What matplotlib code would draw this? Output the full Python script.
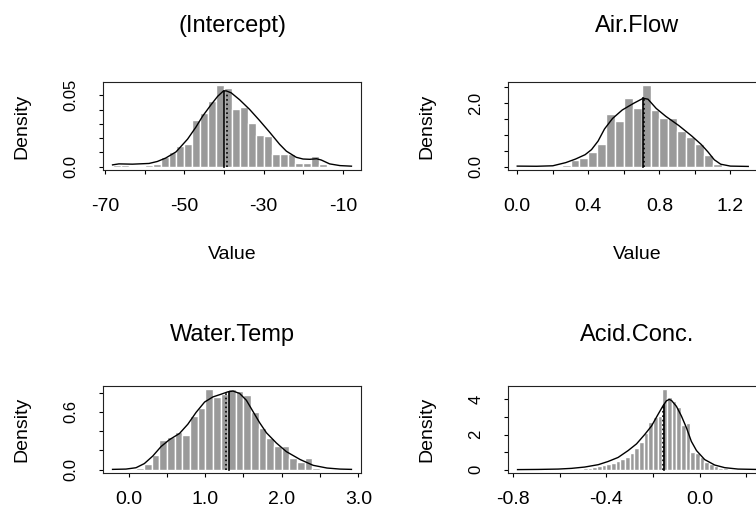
import numpy as np
import matplotlib.pyplot as plt

plt.rcParams['font.family'] = ['Liberation Sans', 'DejaVu Sans']
plt.rcParams['axes.unicode_minus'] = False

##### DATA #####
titles = ['(Intercept)', 'Air.Flow', 'Water.Temp', 'Acid.Conc.']

# (Intercept): histogram bins start at -68, width 2
int_start, int_width = -68.0, 2.0
int_heights = [0.001, 0.001, 0.0005, 0.0005, 0.001, 0.0022, 0.0071, 0.0104,
               0.0147, 0.0162, 0.0325, 0.0373, 0.0457, 0.057, 0.0554, 0.0406,
               0.0418, 0.0306, 0.0222, 0.0215, 0.009, 0.009, 0.009, 0.0023,
               0.0026, 0.0074, 0.0017, 0.0, 0.0, 0.0]
int_dens_x = [-68.1, -66.5, -63.1, -58.9, -56.8, -54.7, -52.1, -49.2, -47.1,
              -45.4, -43.3, -41.6, -40.2, -39.5, -38.2, -36.1, -33.6, -31.1,
              -28.5, -26.0, -24.3, -21.8, -20.1, -18.4, -16.7, -15.5, -13.4,
              -10.8, -7.9]
int_dens_y = [0.0013, 0.002, 0.0018, 0.0023, 0.0037, 0.0061, 0.0104, 0.0193,
              0.0277, 0.0354, 0.0433, 0.0493, 0.0529, 0.0531, 0.0517, 0.0469,
              0.0402, 0.0325, 0.0241, 0.0157, 0.0109, 0.0066, 0.0054, 0.0052,
              0.0056, 0.0047, 0.002, 0.0008, 0.0004]
int_mean, int_median = -40.0, -39.3
int_mean_top, int_median_top = 0.053, 0.052

# Air.Flow: bins start at 0, width 0.05
air_start, air_width = 0.0, 0.05
air_heights = [0.03, 0.0, 0.0, 0.0, 0.0, 0.07, 0.22, 0.28, 0.46, 0.72, 1.66,
               1.45, 2.18, 1.86, 2.57, 1.80, 1.53, 1.54, 1.13, 0.94, 0.72,
               0.36, 0.08, 0.0, 0.0, 0.01]
air_dens_x = [0.0, 0.109, 0.2, 0.273, 0.327, 0.382, 0.418, 0.455, 0.491, 0.536,
              0.591, 0.655, 0.709, 0.736, 0.782, 0.836, 0.909, 0.982, 1.036,
              1.073, 1.109, 1.145, 1.2, 1.3]
air_dens_y = [0.02, 0.015, 0.03, 0.13, 0.24, 0.38, 0.54, 0.81, 1.19, 1.52,
              1.79, 2.0, 2.16, 2.13, 1.84, 1.59, 1.3, 0.97, 0.70, 0.47, 0.22,
              0.08, 0.02, 0.01]
air_mean, air_median = 0.709, 0.716
air_mean_top, air_median_top = 2.16, 2.15

# Water.Temp: bins start at 0, width 0.1
wat_start, wat_width = 0.0, 0.1
wat_heights = [0.0, 0.015, 0.06, 0.15, 0.31, 0.34, 0.39, 0.36, 0.56, 0.64,
               0.84, 0.755, 0.79, 0.835, 0.82, 0.78, 0.60, 0.43, 0.33, 0.25,
               0.25, 0.124, 0.08, 0.124, 0.015, 0.005, 0.0, 0.005]
wat_dens_x = [-0.21, -0.035, 0.096, 0.205, 0.315, 0.424, 0.533, 0.664, 0.773,
              0.882, 0.992, 1.1, 1.21, 1.3, 1.363, 1.45, 1.538, 1.625, 1.71,
              1.8, 1.93, 2.06, 2.24, 2.41, 2.59, 2.76, 2.91]
wat_dens_y = [0.004, 0.007, 0.021, 0.064, 0.142, 0.241, 0.312, 0.376, 0.472,
              0.596, 0.702, 0.755, 0.784, 0.809, 0.816, 0.791, 0.72, 0.603,
              0.489, 0.383, 0.277, 0.188, 0.106, 0.046, 0.018, 0.007, 0.004]
wat_mean, wat_median = 1.31, 1.27
wat_mean_top, wat_median_top = 0.81, 0.80

# Acid.Conc.: bins start at -0.78, width 0.02
acid_start, acid_width = -0.78, 0.02
acid_heights = [0.01, 0.01, 0.01, 0.01, 0.01, 0.02, 0.02, 0.02, 0.03, 0.03,
                0.04, 0.04, 0.05,
                0.06, 0.08, 0.12, 0.155, 0.21, 0.27, 0.31, 0.39, 0.50, 0.62,
                0.74, 0.97, 1.22, 1.59, 2.09, 2.71, 3.02, 3.06, 4.57, 4.13,
                3.93, 3.55, 2.52, 2.64, 1.03, 0.93, 0.70, 0.45, 0.35, 0.19,
                0.12, 0.08, 0.05, 0.03, 0.02, 0.01, 0.01, 0.005]
acid_dens_x = [-0.781, -0.692, -0.607, -0.55, -0.493, -0.435, -0.393, -0.35,
               -0.307, -0.271, -0.236, -0.207, -0.178, -0.157, -0.143, -0.131,
               -0.121, -0.1, -0.079, -0.057, -0.036, -0.014, 0.021, 0.064,
               0.107, 0.164, 0.243]
acid_dens_y = [0.01, 0.02, 0.04, 0.08, 0.155, 0.29, 0.47, 0.70, 1.09, 1.47,
               2.0, 2.48, 3.16, 3.64, 3.91, 3.99, 3.93, 3.6, 3.06, 2.38, 1.61,
               1.09, 0.58, 0.27, 0.12, 0.04, 0.02]
acid_mean, acid_median = -0.153, -0.158
acid_mean_top, acid_median_top = 3.68, 3.6

# axis ticks and labels
int_xticks = [-70, -60, -50, -40, -30, -20, -10]
int_xlabels = ['-70', '', '-50', '', '-30', '', '-10']
int_yticks = [0, 0.01, 0.02, 0.03, 0.04, 0.05]
int_ylabels = ['0.0', '', '', '', '', '0.05']

air_xticks = [0.0, 0.2, 0.4, 0.6, 0.8, 1.0, 1.2, 1.4]
air_xlabels = ['0.0', '', '0.4', '', '0.8', '', '1.2', '']
air_yticks = [0, 0.5, 1.0, 1.5, 2.0, 2.5]
air_ylabels = ['0.0', '', '', '', '2.0', '']

wat_xticks = [0.0, 0.5, 1.0, 1.5, 2.0, 2.5, 3.0]
wat_xlabels = ['0.0', '', '1.0', '', '2.0', '', '3.0']
wat_yticks = [0, 0.2, 0.4, 0.6, 0.8]
wat_ylabels = ['0.0', '', '', '0.6', '']

acid_xticks = [-0.8, -0.6, -0.4, -0.2, 0.0, 0.2]
acid_xlabels = ['-0.8', '', '-0.4', '', '0.0', '']
acid_yticks = [0, 1, 2, 3, 4]
acid_ylabels = ['0', '', '2', '', '4']

##### LAYOUT (pixels) #####
W, H = 756, 520
BAR_COL = '#9a9a9a'
PX = 72.0 / 100  # points per pixel at dpi 100


def draw_panel(fig, left, top, width, height, start, binw, heights,
               dx, dy, mean, mean_top, med, med_top,
               xticks, xlabels, yticks, ylabels, xpad):
    ax = fig.add_axes([left / W, 1 - (top + height) / H, width / W, height / H])
    edges = start + binw * np.arange(len(heights))
    ax.bar(edges, heights, width=binw, align='edge', color=BAR_COL,
           edgecolor='white', linewidth=1.0)
    ax.plot(dx, dy, color='black', lw=1.0)
    ax.plot([mean, mean], [0, mean_top], color='black', lw=1.2)
    ax.plot([med, med], [0, med_top], color='black', lw=1.2, ls=':')
    lo, hi = dx[0], dx[-1]
    ax.set_xlim(lo - 0.04 * (hi - lo), hi + 0.04 * (hi - lo))
    ymax = max(heights)
    ax.set_ylim(-0.04 * ymax, 1.04 * ymax)
    ax.set_xticks(xticks)
    ax.set_xticklabels(xlabels, fontsize=14)
    ax.set_yticks(yticks)
    ax.set_yticklabels(ylabels, rotation=90, va='center', fontsize=12)
    ax.tick_params(direction='out', length=4 * PX, width=0.8, color='black')
    ax.tick_params(axis='x', pad=xpad * PX)
    ax.tick_params(axis='y', pad=20.5 * PX)
    for s in ax.spines.values():
        s.set_linewidth(0.8)
        s.set_color('#222222')
    return ax


fig = plt.figure(figsize=(W / 100, H / 100), dpi=100)

panels = [
    (103, 82, 88, int_start, int_width, int_heights, int_dens_x, int_dens_y,
     int_mean, int_mean_top, int_median, int_median_top,
     int_xticks, int_xlabels, int_yticks, int_ylabels, 24),
    (508, 82, 88, air_start, air_width, air_heights, air_dens_x, air_dens_y,
     air_mean, air_mean_top, air_median, air_median_top,
     air_xticks, air_xlabels, air_yticks, air_ylabels, 24),
    (103, 385.5, 87.5, wat_start, wat_width, wat_heights, wat_dens_x, wat_dens_y,
     wat_mean, wat_mean_top, wat_median, wat_median_top,
     wat_xticks, wat_xlabels, wat_yticks, wat_ylabels, 14),
    (508, 386, 87, acid_start, acid_width, acid_heights, acid_dens_x, acid_dens_y,
     acid_mean, acid_mean_top, acid_median, acid_median_top,
     acid_xticks, acid_xlabels, acid_yticks, acid_ylabels, 14),
]

title_base = [32, 32, 341, 341]
for i, p in enumerate(panels):
    left, top, height = p[0], p[1], p[2]
    draw_panel(fig, left, top, 258, height, *p[3:])
    cx = left + 129
    fig.text(cx / W, 1 - title_base[i] / H, titles[i], ha='center',
             va='baseline', fontsize=17)
    fig.text((left - 81) / W, 1 - (top + height / 2) / H, 'Density',
             rotation=90, ha='center', va='center', fontsize=14)
    if i < 2:
        fig.text(cx / W, 1 - 259 / H, 'Value', ha='center', va='baseline',
                 fontsize=14)

fig.savefig('out.png', dpi=100)
